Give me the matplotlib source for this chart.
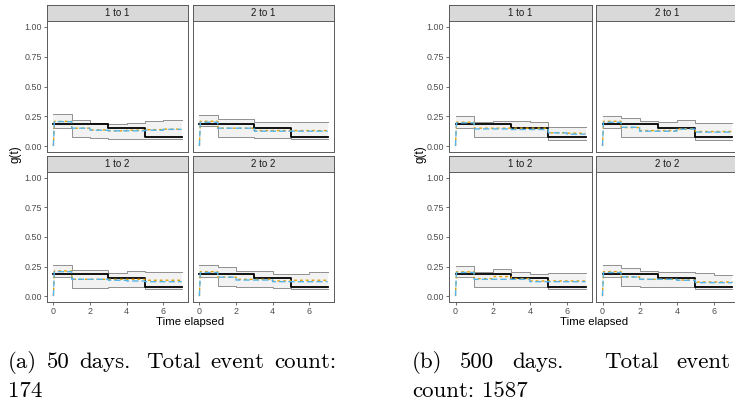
import numpy as np
import matplotlib
matplotlib.use("Agg")
import matplotlib.pyplot as plt

# ---------------- data ----------------
t_edges = [0, 1, 2, 3, 4, 5, 6, 7]
true_g = [0.185, 0.185, 0.185, 0.152, 0.152, 0.076, 0.076]

panel_titles = ["1 to 1", "2 to 1", "1 to 2", "2 to 2"]
x_ticks = [0, 2, 4, 6]
y_ticks = [0.00, 0.25, 0.50, 0.75, 1.00]
y_tick_labels = ["0.00", "0.25", "0.50", "0.75", "1.00"]

# (a) 50 days
a11_upper = [0.267, 0.222, 0.194, 0.182, 0.195, 0.210, 0.220]
a11_lower = [0.150, 0.074, 0.064, 0.063, 0.062, 0.061, 0.061]
a11_blue = [0.205, 0.150, 0.133, 0.128, 0.128, 0.133, 0.140]
a11_orange = [0.207, 0.150, 0.135, 0.128, 0.133, 0.138, 0.142]

a21_upper = [0.262, 0.230, 0.230, 0.200, 0.200, 0.198, 0.205]
a21_lower = [0.170, 0.080, 0.080, 0.070, 0.070, 0.060, 0.060]
a21_blue = [0.200, 0.150, 0.150, 0.125, 0.125, 0.125, 0.125]
a21_orange = [0.208, 0.150, 0.150, 0.130, 0.130, 0.130, 0.130]

a12_upper = [0.267, 0.219, 0.219, 0.193, 0.210, 0.205, 0.205]
a12_lower = [0.162, 0.071, 0.071, 0.080, 0.080, 0.063, 0.063]
a12_blue = [0.207, 0.142, 0.142, 0.134, 0.128, 0.122, 0.122]
a12_orange = [0.213, 0.142, 0.142, 0.142, 0.142, 0.134, 0.134]

a22_upper = [0.260, 0.247, 0.210, 0.210, 0.190, 0.190, 0.207]
a22_lower = [0.160, 0.085, 0.077, 0.077, 0.068, 0.063, 0.063]
a22_blue = [0.200, 0.160, 0.136, 0.136, 0.122, 0.122, 0.122]
a22_orange = [0.207, 0.160, 0.142, 0.142, 0.128, 0.134, 0.134]

# (b) 500 days
b11_upper = [0.253, 0.200, 0.208, 0.210, 0.205, 0.164, 0.164]
b11_lower = [0.150, 0.075, 0.075, 0.080, 0.080, 0.053, 0.053]
b11_blue = [0.195, 0.144, 0.144, 0.139, 0.139, 0.111, 0.100]
b11_orange = [0.200, 0.150, 0.150, 0.150, 0.150, 0.111, 0.108]

b21_upper = [0.255, 0.236, 0.208, 0.200, 0.222, 0.190, 0.190]
b21_lower = [0.150, 0.080, 0.075, 0.075, 0.075, 0.053, 0.053]
b21_blue = [0.200, 0.158, 0.125, 0.125, 0.142, 0.117, 0.117]
b21_orange = [0.208, 0.155, 0.130, 0.130, 0.144, 0.122, 0.122]

b12_upper = [0.256, 0.207, 0.227, 0.207, 0.185, 0.193, 0.193]
b12_lower = [0.162, 0.077, 0.077, 0.077, 0.077, 0.063, 0.063]
b12_blue = [0.200, 0.142, 0.142, 0.142, 0.122, 0.122, 0.122]
b12_orange = [0.205, 0.148, 0.165, 0.148, 0.128, 0.128, 0.128]

b22_upper = [0.260, 0.240, 0.213, 0.204, 0.204, 0.193, 0.176]
b22_lower = [0.162, 0.085, 0.077, 0.077, 0.077, 0.063, 0.063]
b22_blue = [0.200, 0.162, 0.142, 0.142, 0.134, 0.114, 0.114]
b22_orange = [0.207, 0.162, 0.142, 0.142, 0.136, 0.119, 0.119]

panels_a = [
    (a11_upper, a11_lower, a11_blue, a11_orange),
    (a21_upper, a21_lower, a21_blue, a21_orange),
    (a12_upper, a12_lower, a12_blue, a12_orange),
    (a22_upper, a22_lower, a22_blue, a22_orange),
]
panels_b = [
    (b11_upper, b11_lower, b11_blue, b11_orange),
    (b21_upper, b21_lower, b21_blue, b21_orange),
    (b12_upper, b12_lower, b12_blue, b12_orange),
    (b22_upper, b22_lower, b22_blue, b22_orange),
]

caption_a_line1 = ["(a)", "50", "days.", "Total", "event", "count:"]
caption_a_line2 = ["174"]
caption_b_line1 = ["(b)", "500", "days.", "Total", "event"]
caption_b_line2 = ["count:", "1587"]

# ---------------- styling / layout ----------------
W, H = 735, 405
fig = plt.figure(figsize=(W / 100, H / 100), dpi=100)
fig.patch.set_facecolor("white")

SANS = ["Liberation Sans", "DejaVu Sans"]
BORDER = "#5a5a5a"
STRIP_FILL = "#D9D9D9"
BLUE = "#56B4E9"
ORANGE = "#E69F00"


def rect(x0, y0, x1, y1):
    return [x0 / W, 1 - y1 / H, (x1 - x0) / W, (y1 - y0) / H]


def step_xy(vals):
    e = np.asarray(t_edges, dtype=float)
    v = np.asarray(vals, dtype=float)
    xs = np.repeat(e, 2)[1:-1]
    ys = np.repeat(v, 2)
    return xs, ys


def draw_panel(ax, data, title, sax, show_y, show_x):
    upper, lower, blue, orange = data
    xu, yu = step_xy(upper)
    xl, yl = step_xy(lower)
    ax.fill_between(xu, yl, yu, color="#F2F2F2", lw=0, zorder=1)
    ax.plot(xu, yu, color="#909090", lw=0.7, zorder=2)
    ax.plot(xl, yl, color="#909090", lw=0.7, zorder=2)
    xb, yb = step_xy(true_g)
    ax.plot(xb, yb, color="black", lw=1.3, zorder=3)
    for vals, col, dash, z in ((orange, ORANGE, (2.0, 2.2), 4), (blue, BLUE, (4.5, 2.2), 5)):
        xs, ys = step_xy(vals)
        xs = np.concatenate([[0.0], xs])
        ys = np.concatenate([[0.0], ys])
        xs[1] = 0.05
        ax.plot(xs, ys, color=col, lw=1.0, dashes=dash, zorder=z)
    ax.set_xlim(-0.35, 7.35)
    ax.set_ylim(-0.05, 1.05)
    ax.set_facecolor("white")
    for s in ax.spines.values():
        s.set_color(BORDER)
        s.set_linewidth(0.7)
    ax.set_yticks(y_ticks)
    ax.set_xticks(x_ticks)
    ax.tick_params(length=2.2, width=0.5, color="#333333", labelsize=6.4,
                   labelcolor="#4D4D4D", pad=1.5)
    if show_y:
        ax.set_yticklabels(y_tick_labels, fontfamily=SANS)
    else:
        ax.tick_params(axis="y", left=False, labelleft=False)
    if show_x:
        ax.set_xticklabels([str(v) for v in x_ticks], fontfamily=SANS)
    else:
        ax.tick_params(axis="x", bottom=False, labelbottom=False)
    sax.set_facecolor(STRIP_FILL)
    sax.set_xticks([])
    sax.set_yticks([])
    for s in sax.spines.values():
        s.set_color(BORDER)
        s.set_linewidth(0.7)
    sax.text(0.5, 0.5, title, transform=sax.transAxes, ha="center", va="center",
             fontsize=7.0, color="#1A1A1A", fontfamily=SANS)


def draw_block(cols, panels, ylab_x, xlab_x):
    rows = [(5, 21, 152), (156, 172, 302)]
    k = 0
    for r, (st, pt, pb) in enumerate(rows):
        for c, (x0, x1) in enumerate(cols):
            sax = fig.add_axes(rect(x0, st, x1, pt))
            ax = fig.add_axes(rect(x0, pt, x1, pb))
            draw_panel(ax, panels[k], panel_titles[k], sax, c == 0, r == 1)
            k += 1
    fig.text(ylab_x / W, 1 - 154 / H, "g(t)", rotation=90, ha="center", va="center",
             fontsize=8.4, fontfamily=SANS, color="black")
    fig.text(xlab_x / W, 1 - 322 / H, "Time elapsed", ha="center", va="center",
             fontsize=8.2, fontfamily=SANS, color="black")


draw_block([(47, 188), (193, 334)], panels_a, 16, 190)
draw_block([(449, 592), (596, 739)], panels_b, 421, 594)

CAP = dict(fontsize=16.5, fontfamily="cmr10", color="black", va="baseline", ha="left")
renderer = fig.canvas.get_renderer()


def caption_line(words, x_start, y, x_end=None):
    """TeX-like justification: sentence spaces are wider and stretch more."""
    texts = [fig.text(0, 1 - y / H, w, **CAP) for w in words]
    widths = [t.get_window_extent(renderer).width for t in texts]
    em = CAP["fontsize"] * 100 / 72
    base, stretch = [], []
    for w in words[:-1]:
        if w.endswith("."):
            base.append(0.444 * em)
            stretch.append(0.5 * em)
        else:
            base.append(0.333 * em)
            stretch.append(0.166 * em)
    r = 0.0
    if x_end is not None and len(words) > 1:
        r = (x_end - x_start - sum(widths) - sum(base)) / sum(stretch)
    x = x_start
    for i, (t, w) in enumerate(zip(texts, widths)):
        t.set_x(x / W)
        if i < len(base):
            x += w + base[i] + r * stretch[i]


caption_line(caption_a_line1, 8, 368, x_end=336)
caption_line(caption_a_line2, 8, 397)
caption_line(caption_b_line1, 412, 368, x_end=730)
caption_line(caption_b_line2, 412, 397)

fig.savefig("out.png", dpi=100, facecolor="white")
